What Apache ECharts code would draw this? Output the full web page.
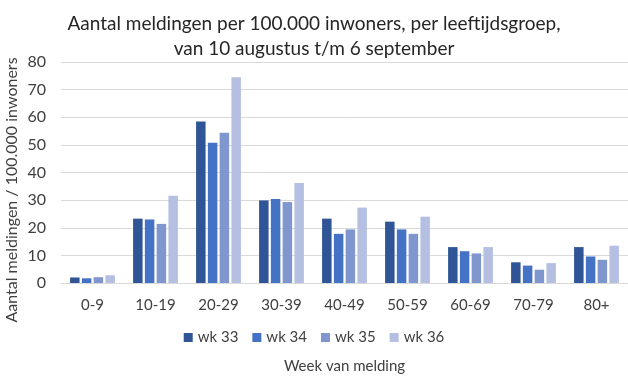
<!DOCTYPE html>
<html><head><meta charset="utf-8">
<script src="https://cdn.jsdelivr.net/npm/echarts@6/dist/echarts.min.js"></script>
<style>html,body{margin:0;padding:0;background:#fff}#c{width:628px;height:379px}</style>
</head><body><div id="c"></div>
<script>
const categories = ['0-9','10-19','20-29','30-39','40-49','50-59','60-69','70-79','80+'];
const seriesNames = ['wk 33','wk 34','wk 35','wk 36'];
const wk33 = [2.0, 23.3, 58.5, 29.9, 23.3, 22.2, 13.0, 7.5, 13.0];
const wk34 = [1.7, 23.0, 50.8, 30.4, 17.8, 19.4, 11.5, 6.3, 9.6];
const wk35 = [2.1, 21.4, 54.4, 29.3, 19.4, 17.8, 10.7, 4.8, 8.4];
const wk36 = [2.8, 31.6, 74.5, 36.2, 27.3, 24.0, 13.0, 7.2, 13.5];
const yTicks = [0,10,20,30,40,50,60,70,80];
const colors = ['#2F5597','#4472C4','#7F96CF','#B4BFE2'];
const FONT = 'Lato';
const values = [wk33, wk34, wk35, wk36];

const chart = echarts.init(document.getElementById('c'), null, {renderer:'canvas'});
chart.setOption({
  animation:false,
  textStyle:{fontFamily:FONT},
  title:{
    text:'Aantal meldingen per 100.000 inwoners, per leeftijdsgroep,\nvan 10 augustus t/m 6 september',
    left:'center', top:6,
    textStyle:{fontFamily:FONT, fontSize:19, fontWeight:'normal', color:'#262626', lineHeight:25}
  },
  legend:{
    data:seriesNames, left:'center', top:325, itemWidth:9, itemHeight:9, itemGap:14,
    icon:'rect', textStyle:{fontFamily:FONT, fontSize:15, color:'#404040'}
  },
  grid:{left:61, top:62, width:569, height:223, containLabel:false},
  xAxis:{
    type:'category', data:categories,
    axisLine:{lineStyle:{color:'#D9D9D9'}}, axisTick:{show:false},
    axisLabel:{fontFamily:FONT, fontSize:15, color:'#404040', margin:15},
    name:'Week van melding', nameLocation:'middle', nameGap:76,
    nameTextStyle:{fontFamily:FONT, fontSize:15, color:'#404040'}
  },
  yAxis:{
    type:'value', min:0, max:80, interval:10,
    axisLine:{show:false}, axisTick:{show:false},
    splitLine:{lineStyle:{color:'#D9D9D9'}},
    axisLabel:{fontFamily:FONT, fontSize:16, color:'#404040', margin:15,
      formatter:v=> yTicks.includes(v) ? String(v) : ''}
  },
  graphic:[{
    type:'text', x:12, y:190, rotation:Math.PI/2,
    style:{text:'Aantal meldingen / 100.000 inwoners', fontFamily:FONT, fontSize:16,
      fill:'#404040', align:'center', verticalAlign:'middle'}
  }],
  series: seriesNames.map((n,i)=>({
    name:n, type:'bar', data:values[i], barWidth:9.5, barGap:'24%',
    itemStyle:{color:colors[i]}
  }))
});
</script></body></html>
